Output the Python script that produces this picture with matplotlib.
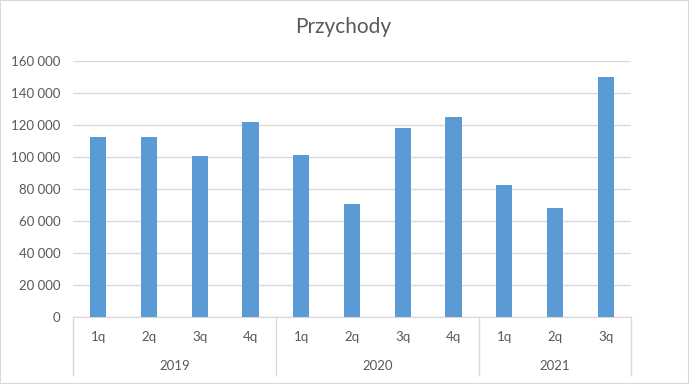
import numpy as np
import matplotlib
matplotlib.use("Agg")
import matplotlib.pyplot as plt
from matplotlib.patches import Rectangle
from matplotlib.ticker import FuncFormatter

# dane
quarters = ["1q", "2q", "3q", "4q", "1q", "2q", "3q", "4q", "1q", "2q", "3q"]
years = ["2019", "2020", "2021"]
year_sizes = [4, 4, 3]
revenue = [112500, 112500, 100600, 121900, 101200, 70600, 118100, 125000, 82500, 68100, 150000]

bar_color = "#5B9BD5"
grid_color = "#D9D9D9"
text_color = "#595959"

plt.rcParams['font.family'] = ['Lato', 'DejaVu Sans']

fig = plt.figure(figsize=(6.89, 3.84), dpi=100)
ax = fig.add_axes([73/689, 1-317/384, (631-73)/689, 256/384])

x = np.arange(len(revenue))
ax.bar(x, revenue, width=0.32, color=bar_color, zorder=3)

ax.set_xlim(-0.5, len(revenue) - 0.5)
ax.set_ylim(0, 160000)
ax.set_yticks(np.arange(0, 160001, 20000))
ax.yaxis.set_major_formatter(FuncFormatter(lambda v, p: f"{int(v):,}".replace(",", " ")))
ax.grid(axis="y", color=grid_color, linewidth=1, zorder=0)
ax.tick_params(axis="y", length=0, pad=9, labelsize=9.5, labelcolor=text_color)

for s in ["top", "right", "left"]:
    ax.spines[s].set_visible(False)
ax.spines["bottom"].set_color(grid_color)

# os kategorii dwupoziomowa
ax.set_xticks([])
tr = ax.get_xaxis_transform()
for xi, q in zip(x, quarters):
    ax.text(xi, -0.078, q, transform=tr, ha="center", va="center", fontsize=9.5, color=text_color)

start = 0
seps = [-0.5]
for y, n in zip(years, year_sizes):
    ax.text(start + (n - 1) / 2, -0.191, y, transform=tr, ha="center", va="center", fontsize=9.5, color=text_color)
    start += n
    seps.append(start - 0.5)
for sx in seps:
    ax.plot([sx, sx], [0, -0.2266], transform=tr, color=grid_color, linewidth=1, clip_on=False)

fig.text(343/689, 1-27/384, "Przychody", ha="center", va="center", fontsize=15, color=text_color)

fig.patches.append(Rectangle((0, 0), 1, 1, transform=fig.transFigure, fill=False,
                             edgecolor=grid_color, linewidth=1.5))

fig.savefig("out.png", dpi=100)
